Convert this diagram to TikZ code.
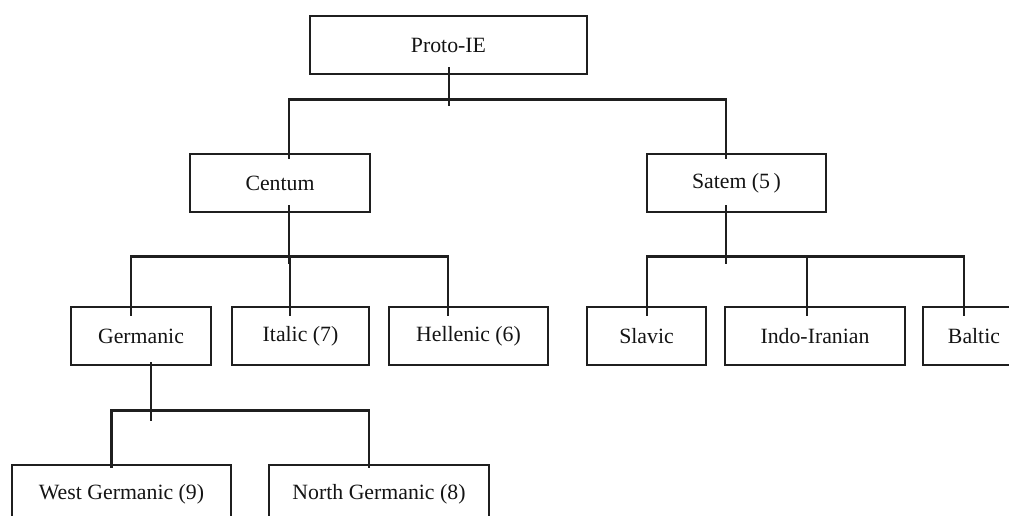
\documentclass[tikz,border=0pt]{standalone}
\usepackage{fontspec}
\setmainfont{Liberation Serif}
\begin{document}
\begin{tikzpicture}[x=0.02cm,y=-0.02cm,
  box/.style={draw=black!88,line width=1.6pt,minimum height=1.16cm,inner sep=0pt,
    font=\fontsize{12.4}{14}\selectfont,text=black!92},
  link/.style={draw=black!88,line width=1.6pt}]
\useasboundingbox (0,0) rectangle (1009,516);
\clip (0,0) rectangle (1009,516);
\node[box,minimum width=5.54cm] (pie) at (448.5,45) {Proto-IE};
\node[box,minimum width=3.6cm] (centum) at (280,183) {Centum};
\node[box,minimum width=3.58cm] (satem) at (736.5,183) {Satem (5\,)};
\node[box,minimum width=2.8cm] (germanic) at (141,336) {Germanic};
\node[box,minimum width=2.74cm] (italic) at (300.5,336) {Italic (7)};
\node[box,minimum width=3.18cm] (hellenic) at (468.5,336) {Hellenic (6)};
\node[box,minimum width=2.38cm] (slavic) at (646.5,336) {Slavic};
\node[box,minimum width=3.6cm] (indo) at (815,336) {Indo-Iranian};
\node[box,minimum width=2.04cm] (baltic) at (974,336) {Baltic};
\node[box,minimum width=4.38cm] (westg) at (121.5,494) {West Germanic (9)};
\node[box,minimum width=4.4cm] (northg) at (379,494) {North Germanic (8)};
% Proto-IE
\draw[link] ([shift={(0.5,-8)}]pie.south) -- ++(0,39);
\draw[link] ([shift={(9,6)}]centum.north) -- ++(0,-59) -| ([shift={(-10.5,6)}]satem.north);
% Centum
\draw[link] ([shift={(9,-8)}]centum.south) -- ++(0,59);
\draw[link] ([shift={(-10,10)}]germanic.north) -- ++(0,-59) -| ([shift={(-20.5,10)}]hellenic.north);
\draw[link] ([shift={(-10.5,10)}]italic.north) -- ++(0,-59);
% Satem
\draw[link] ([shift={(-10.5,-8)}]satem.south) -- ++(0,59);
\draw[link] ([shift={(0.5,10)}]slavic.north) -- ++(0,-59) -| ([shift={(-10,10)}]baltic.north);
\draw[link] ([shift={(-8,10)}]indo.north) -- ++(0,-59);
% Germanic
\draw[link] ([shift={(10,-4)}]germanic.south) -- ++(0,59);
\draw[link] ([shift={(-10,4)}]westg.north) -- ++(0,-57) -| ([shift={(-10,4)}]northg.north);
\end{tikzpicture}
\end{document}
